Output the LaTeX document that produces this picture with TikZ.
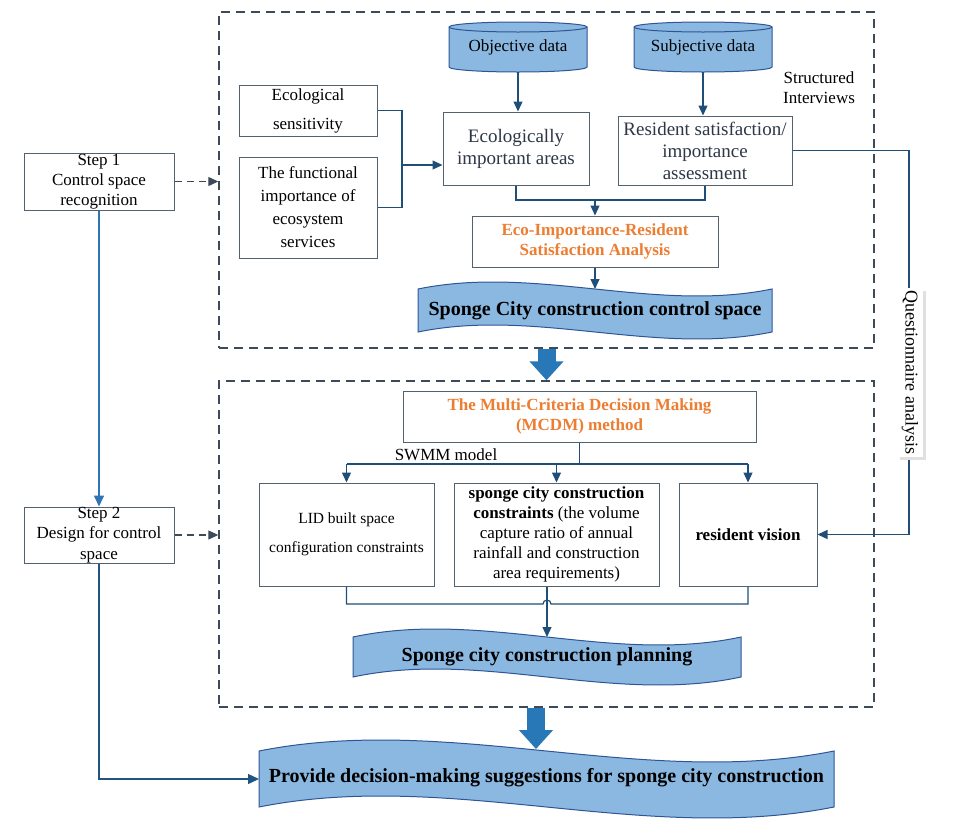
\documentclass[tikz,border=0pt]{standalone}
\usepackage{fontspec}
\setmainfont{Liberation Serif}
\usetikzlibrary{arrows.meta,calc}
\definecolor{cConn}{RGB}{31,78,121}
\definecolor{cBox}{RGB}{84,98,112}
\definecolor{cDash}{RGB}{60,74,90}
\definecolor{cBan}{RGB}{138,184,225}
\definecolor{cBanB}{RGB}{47,85,151}
\definecolor{cOr}{RGB}{237,125,49}
\definecolor{cBig}{RGB}{40,120,184}
\definecolor{cStep}{RGB}{46,117,182}
\definecolor{cTxt}{RGB}{45,55,70}
\newcommand{\myfs}[2]{\fontsize{#1}{#2}\selectfont}
\newcommand{\wavebanner}[5]{%
  \pgfmathsetmacro{\wbw}{#2-#1}%
  \pgfmathsetmacro{\wbk}{3.46*#5}%
  \filldraw[fill=cBan,draw=cBanB,line width=1pt] (#1,#3) .. controls ({#1+\wbw/3},{#3-\wbk}) and ({#1+2*\wbw/3},{#3+\wbk}) .. (#2,#3) -- (#2,#4) .. controls ({#1+2*\wbw/3},{#4+\wbk}) and ({#1+\wbw/3},{#4-\wbk}) .. (#1,#4) -- cycle;}
\newcommand{\datacyl}[2]{%
  \filldraw[fill=cBan,draw=cBanB,line width=1pt] (#1,27) arc[start angle=180,end angle=360,x radius=69,y radius=5] -- (#2,67) arc[start angle=0,end angle=180,x radius=69,y radius=5] -- cycle;
  \draw[cBanB,line width=1pt] (#1,27) arc[start angle=180,end angle=0,x radius=69,y radius=5];}
\begin{document}
\begin{tikzpicture}[x=1pt,y=-1pt,
  box/.style={draw=cBox,line width=1pt,fill=white,inner sep=0pt,align=center},
  conn/.style={draw=cConn,line width=1.2pt},
  arr/.style={conn,-{Triangle[length=10pt,width=9pt]}},
  dbox/.style={draw=cDash,line width=1.4pt,dash pattern=on 9pt off 6pt,inner sep=0pt},
  darr/.style={draw=cDash,line width=1.2pt,dash pattern=on 7pt off 5pt,-{Triangle[length=10pt,width=9pt]}},
  bigarr/.style={draw=cBig,line width=18pt,-{Triangle[length=19pt,width=33pt]}},
  btxt/.style={font=\bfseries\myfs{20}{24},inner sep=0pt},
  ortxt/.style={text=cOr,font=\bfseries\myfs{17}{20.5}}]
\useasboundingbox (0,0) rectangle (956,833);

% section frames
\node[dbox,minimum width=655,minimum height=336] (sec1) at (546.5,180) {};
\node[dbox,minimum width=655,minimum height=326] (sec2) at (546.5,544) {};

% steps
\node[box,minimum width=150,minimum height=57,font=\myfs{17}{20}] (s1) at (99,181.5) {Step 1\\Control space\\recognition};
\node[box,minimum width=150,minimum height=56,font=\myfs{17}{20.5}] (s2) at (99,535) {Step 2\\Design for control\\space};

% cylinders
\datacyl{449}{587}
\datacyl{634}{772}
\node[font=\myfs{17}{20},inner sep=0pt,minimum width=138,minimum height=50] (obj) at (518,47) {Objective data};
\node[font=\myfs{17}{20},inner sep=0pt,minimum width=138,minimum height=50] (subj) at (703,47) {Subjective data};
\node[font=\myfs{17}{20},align=center,inner sep=0pt] (si) at (819,88) {Structured\\Interviews};

% upper boxes
\node[box,minimum width=138,minimum height=51,font=\myfs{17}{29}] (es) at (308,110.5) {Ecological\\sensitivity};
\node[box,minimum width=138,minimum height=101,font=\myfs{17}{23}] (fs) at (308,207.5) {The functional\\importance of\\ecosystem\\services};
\node[box,minimum width=146,minimum height=73,font=\myfs{19}{22},text=cTxt] (eco) at (516,148.5) {Ecologically\\important areas};
\node[box,minimum width=174,minimum height=69,font=\myfs{19}{22},text=cTxt] (res) at (705,150.5) {Resident satisfaction/\\importance\\assessment};
\node[box,minimum width=246,minimum height=51,ortxt] (ana) at (595,241.5) {Eco-Importance-Resident\\Satisfaction Analysis};

% banner 1
\wavebanner{418}{772}{289}{332}{7}
\node[btxt] (b1) at (595,311) {Sponge City construction control space};
\coordinate (b1top) at (595,289);

% upper connectors
\draw[arr] (obj.south) -- (obj.south |- eco.north);
\draw[arr] (subj.south) -- (subj.south |- res.north);
\coordinate (brk) at (402,165);
\draw[conn] (es.east) -| (brk);
\draw[conn] (fs.east) -| (brk);
\draw[arr] (brk) -- (brk -| eco.west);
\coordinate (j1) at (0,200);
\draw[conn] (eco.south) -- (eco.south |- j1) -- (res.south |- j1) -- (res.south);
\draw[arr] (ana.north |- j1) -- (ana.north);
\draw[arr] (ana.south) -- (b1top);

% middle section
\node[box,minimum width=353,minimum height=51,ortxt] (mcdm) at (579.5,416.5) {The Multi-Criteria Decision Making\\(MCDM) method};
\node[box,minimum width=175,minimum height=103,font=\myfs{15.5}{29}] (lid) at (346.5,534.5) {LID built space\\configuration constraints};
\node[box,minimum width=205,minimum height=103,font=\myfs{17}{20}] (mid) at (556.5,534.5) {\textbf{sponge city construction}\\\textbf{constraints} (the volume\\capture ratio of annual\\rainfall and construction\\area requirements)};
\node[box,minimum width=138,minimum height=103,font=\bfseries\myfs{17}{20}] (rv) at (748,534.5) {resident vision};
\node[font=\myfs{17}{20},inner sep=0pt] (swmm) at (446,455) {SWMM model};

\coordinate (hl) at (0,464);
\draw[conn] (mcdm.south) -- (mcdm.south |- hl);
\draw[conn] (lid.north |- hl) -- (rv.north |- hl);
\draw[arr] (lid.north |- hl) -- (lid.north);
\draw[arr] (mid.north |- hl) -- (mid.north);
\draw[arr] (rv.north |- hl) -- (rv.north);

% banner 2
\wavebanner{353}{741}{637}{677}{8}
\node[btxt] (b2) at (547,657) {Sponge city construction planning};
\coordinate (b2top) at (547,637);
\coordinate (hb) at (0,604);
\draw[conn] (lid.south) -- (lid.south |- hb) -- (543,604) arc[start angle=180,end angle=360,radius=4] -- (rv.south |- hb) -- (rv.south);
\draw[arr] (mid.south -| b2top) -- (b2top);

% questionnaire
\coordinate (qx) at (909,0);
\draw[conn] (res.east) -- (res.east -| qx) -- (rv.east -| qx);
\draw[arr] (rv.east -| qx) -- (rv.east);
\fill[black!12] (899.5,290.5) rectangle (925.5,459.5);
\node[fill=white,rotate=-90,minimum width=169,minimum height=26,inner sep=0pt,font=\myfs{18}{20}] (qa) at (910,372.5) {Questionnaire analysis};

% banner 3
\wavebanner{259}{834}{751}{807}{11}
\node[btxt] (b3) at (546.5,778) {Provide decision-making suggestions for sponge city construction};
\coordinate (b3in) at (259,779);
\coordinate (b3top) at (536,749);

% step connectors
\draw[draw=cStep,line width=1.6pt,-{Triangle[length=11pt,width=10pt]}] (s1.south) -- (s2.north);
\draw[draw=cConn!85!cStep,line width=1.4pt,-{Triangle[length=11pt,width=10pt]}] (s2.south) |- (b3in);
\draw[darr] (s1.east) -- (s1.east -| sec1.west);
\draw[darr] (s2.east) -- (s2.east -| sec2.west);

% block arrows
\draw[bigarr] (sec1.south) -- (sec2.north);
\draw[bigarr] ([xshift=-10.5pt]sec2.south) -- (b3top);
\end{tikzpicture}
\end{document}
